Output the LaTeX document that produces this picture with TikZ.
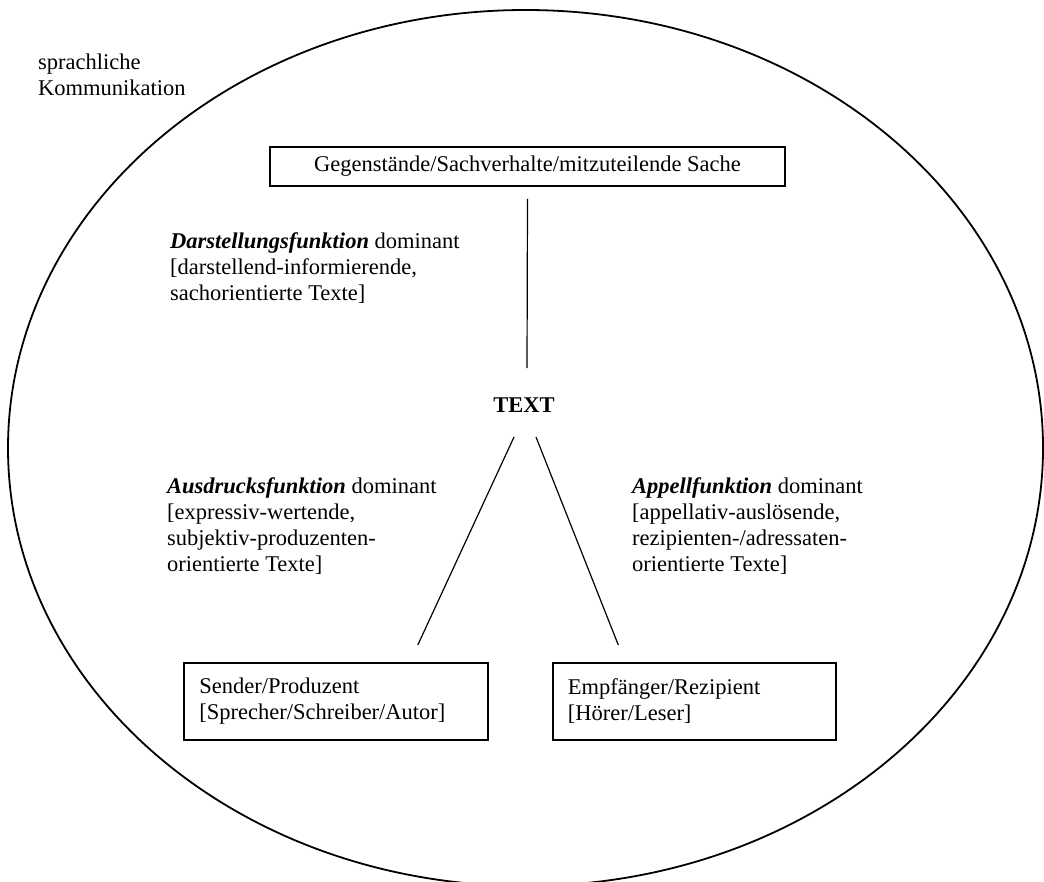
\documentclass[tikz,border=0pt]{standalone}
\usepackage{fontspec}
\setmainfont{Liberation Serif}
\usetikzlibrary{calc}
\begin{document}
\begin{tikzpicture}[x=1pt,y=1pt,
  every node/.style={font=\fontsize{22.5}{26}\selectfont},
  lbl/.style={anchor=west, align=left, inner sep=0pt},
  box/.style={draw, line width=1.6pt, inner ysep=0pt},
  conn/.style={line width=1.2pt}]
\useasboundingbox (0,0) rectangle (1044,-881);
\draw[line width=1.8pt] (525.5,-448) ellipse [x radius=517.5, y radius=438];

\node[lbl] (komm) at (38,-74.5) {sprachliche\\Kommunikation};

\node[box, minimum width=515pt, minimum height=39pt, inner xsep=0pt] (top) at (527.5,-166.5)
  {Gegenstände/Sachverhalte/mitzuteilende Sache};

\node[lbl] (dar) at (170,-268) {\textbf{\textit{Darstellungsfunktion}} dominant\\{[darstellend-informierende,}\\sachorientierte Texte]};

\node[inner sep=0pt, font=\fontsize{22.5}{26}\selectfont\bfseries] (text) at (524,-405) {TEXT};

\node[lbl] (aus) at (167,-526) {\textbf{\textit{Ausdrucksfunktion}} dominant\\{[expressiv-wertende,}\\subjektiv-produzenten-\\orientierte Texte]};

\node[lbl] (app) at (632,-526) {\textbf{\textit{Appellfunktion}} dominant\\{[appellativ-auslösende,}\\rezipienten-/adressaten-\\orientierte Texte]};

\node[box, anchor=north west, minimum height=77pt, text width=273pt, inner xsep=15.5pt, align=left] (send) at (183,-662)
  {Sender/Produzent\\{[Sprecher/Schreiber/Autor]}};

\node[box, anchor=north west, minimum height=77pt, text width=253pt, inner xsep=15pt, align=left] (emp) at (552,-662)
  {Empfänger/Rezipient\\{[Hörer/Leser]}};

\draw[conn] ($(top.south)+(0,-12)$) -- ($(text.center)+(3,37)$);
\draw[conn] ($(text.center)+(-10,-32)$) -- ($(send.north)+(82,17)$);
\draw[conn] ($(text.center)+(12,-32)$) -- ($(emp.north)+(-76,17)$);
\end{tikzpicture}
\end{document}
